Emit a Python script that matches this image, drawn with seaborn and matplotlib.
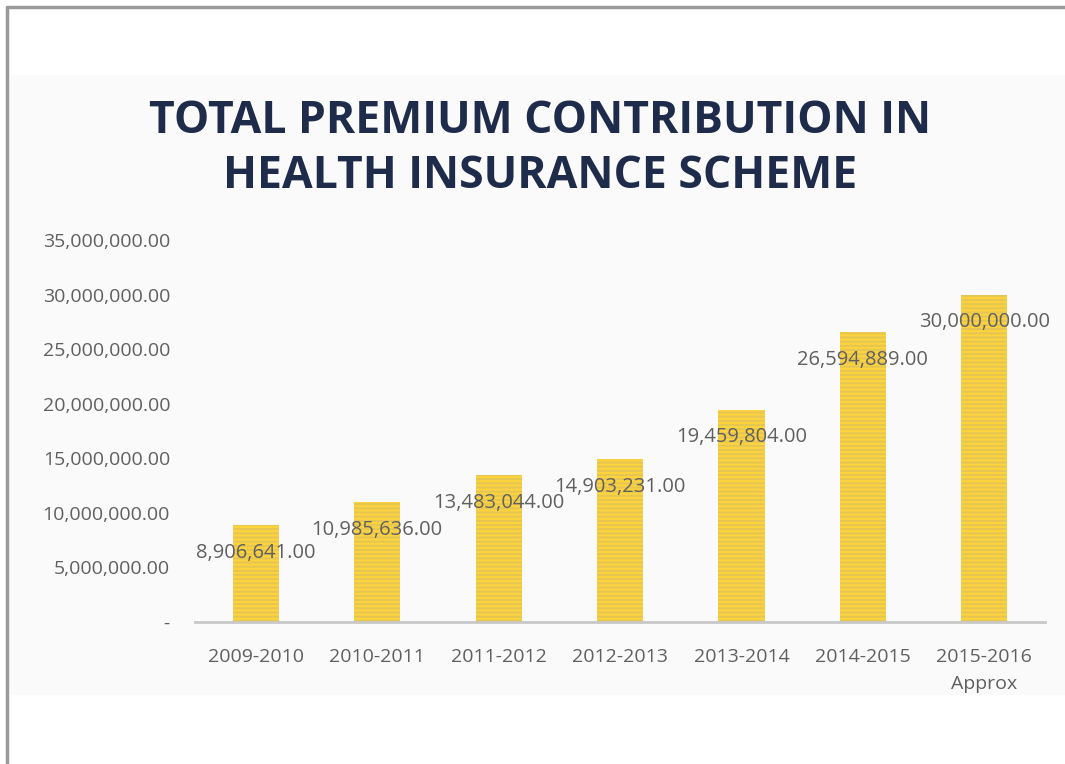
import matplotlib
matplotlib.use("Agg")
import matplotlib.pyplot as plt
import seaborn as sns
import pandas as pd
from matplotlib.patches import Rectangle
from matplotlib.lines import Line2D

# values
years = ["2009-2010", "2010-2011", "2011-2012", "2012-2013",
         "2013-2014", "2014-2015", "2015-2016\nApprox"]
premium = [8906641, 10985636, 13483044, 14903231, 19459804, 26594889, 30000000]
y_ticks = [0, 5000000, 10000000, 15000000, 20000000, 25000000, 30000000, 35000000]

df = pd.DataFrame({"year": years, "premium": premium})

sns.set_theme(style="white")
plt.rcParams["font.family"] = ["Open Sans", "DejaVu Sans"]
plt.rcParams["hatch.color"] = "#FFEA96"
plt.rcParams["hatch.linewidth"] = 1.4

GREY = "#606060"
fig = plt.figure(figsize=(10.65, 7.64), dpi=100)
fig.patch.set_facecolor("white")

# light panel behind the chart + thin frame on top/left
fig.add_artist(Rectangle((10 / 1065, 1 - 695 / 764), 1, (695 - 75) / 764,
                         transform=fig.transFigure, facecolor="#FAFAFA",
                         edgecolor="none", zorder=-5))
fig.add_artist(Line2D([7 / 1065, 1], [1 - 7 / 764, 1 - 7 / 764],
                      transform=fig.transFigure, color="#9A9A9A", lw=2.5))
fig.add_artist(Line2D([7 / 1065, 7 / 1065], [1 - 7 / 764, 0],
                      transform=fig.transFigure, color="#9A9A9A", lw=2.5))

ax = fig.add_axes([195 / 1065, 142 / 764, 850 / 1065, 382 / 764])
ax.set_facecolor("none")

sns.barplot(data=df, x="year", y="premium", ax=ax, color="#FFD43A",
            width=0.38, hatch="----", edgecolor="#FFD43A", linewidth=0)

for i, v in enumerate(premium):
    ax.annotate(f"{v:,.2f}", (i, v), xytext=(0, -20), textcoords="offset points",
                ha="center", va="center", fontsize=14.5, color=GREY)

ax.set_ylim(0, 35000000)
ax.set_xlim(-0.5, 6.5)
ax.set_yticks(y_ticks)
ax.set_yticklabels(["-"] + [f"{t:,.2f}" for t in y_ticks[1:]])
ax.set_xlabel("")
ax.set_ylabel("")
ax.tick_params(axis="y", length=0, pad=18, labelsize=14, labelcolor=GREY)
ax.tick_params(axis="x", length=0, pad=19, labelsize=14, labelcolor=GREY)
for lbl in ax.get_xticklabels():
    lbl.set_linespacing(1.6)
for s in ["top", "right", "left"]:
    ax.spines[s].set_visible(False)
ax.spines["bottom"].set_color("#C8C8C8")
ax.spines["bottom"].set_linewidth(2)

fig.text(540 / 1065, 1 - 149 / 764,
         "TOTAL PREMIUM CONTRIBUTION IN\nHEALTH INSURANCE SCHEME",
         ha="center", va="center", fontsize=32, fontweight="bold",
         color="#1F2B4A", linespacing=1.3)

fig.savefig("out.png", dpi=100)
